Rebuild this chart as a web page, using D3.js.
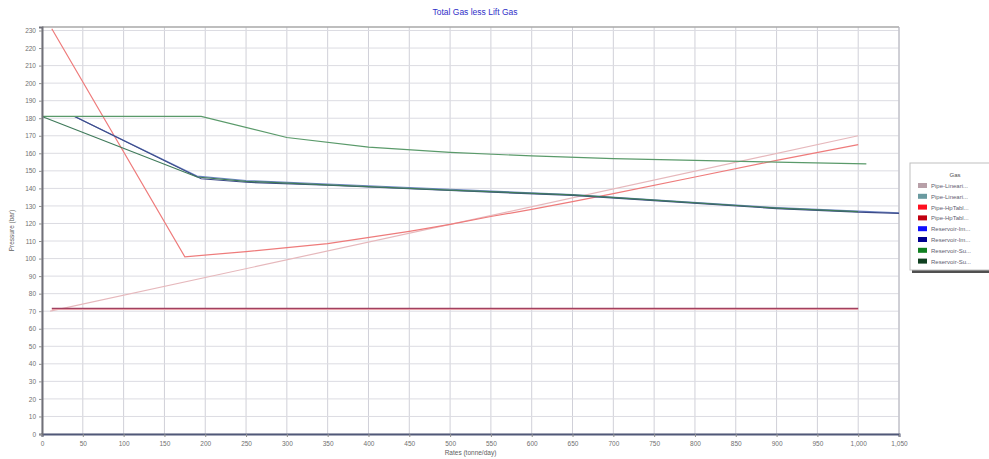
<!DOCTYPE html>
<html lang="en">
<head>
<meta charset="utf-8">
<title>Total Gas less Lift Gas</title>
<script src="https://cdn.jsdelivr.net/npm/d3@7"></script>
<style>
body { margin: 0; background: #fff; font-family: "Liberation Sans", Arial, sans-serif; }
</style>
</head>
<body>
<script>
var w = 989, h = 459;
var margin = {top: 27, right: 90, bottom: 25, left: 42};

// data (rate in tonne/day, pressure in bar)
var pipeLin1 = [[10, 70], [1000, 170]];
var pipeLin2 = [[12, 71], [1000, 71]];
var pipeHp1 = [[12, 231], [175, 101], [250, 104], [350, 108.5], [450, 115.5], [500, 119.5],
               [550, 124], [600, 128], [650, 132.5], [700, 137], [800, 146.5], [900, 156], [1000, 165]];
var pipeHp2 = [[12, 71.6], [1000, 71.6]];
var resIm1 = [[40, 181], [190, 147], [250, 144.5], [350, 142.5], [500, 139.5], [650, 136.5],
              [750, 133.5], [900, 129], [1000, 127], [1050, 126]];
var resIm2 = [[40, 181], [195, 145.5], [250, 143.5], [350, 141.8], [500, 138.8], [650, 136],
              [750, 133], [900, 128.5], [1000, 126.5], [1050, 125.8]];
var resSu1 = [[0, 181], [195, 181], [300, 169], [400, 163.5], [500, 160.5], [600, 158.5],
              [700, 157], [800, 156], [900, 155], [1010, 154]];
var resSu2 = [[0, 181], [190, 146.5], [250, 144], [350, 142], [500, 139], [650, 136.3],
              [750, 133.3], [900, 128.8], [1000, 126.8]];

var xTicks = d3.range(0, 1051, 50);
var yTicks = d3.range(0, 231, 10);

var series = [
  {name: "Pipe-Lineari...", data: pipeLin1, color: "#e6b8bc", swatch: "#b8a0a8"},
  {name: "Pipe-Lineari...", data: pipeLin2, color: "#e9a0a8", swatch: "#6a9aa0"},
  {name: "Pipe-HpTabl...", data: pipeHp1, color: "#ee7b7b", swatch: "#ff1020"},
  {name: "Pipe-HpTabl...", data: pipeHp2, color: "#a04060", swatch: "#c00010"},
  {name: "Reservoir-Im...", data: resIm1, color: "#6e86c4", swatch: "#1010ff"},
  {name: "Reservoir-Im...", data: resIm2, color: "#3c4a88", swatch: "#000090"},
  {name: "Reservoir-Su...", data: resSu1, color: "#5a9a6a", swatch: "#108020"},
  {name: "Reservoir-Su...", data: resSu2, color: "#3f7a5a", swatch: "#104020"}
];

var svg = d3.select("body").append("svg")
  .attr("width", w)
  .attr("height", h);

var x = d3.scaleLinear().domain([0, 1050]).range([margin.left, 899]);
var y = d3.scaleLinear().domain([0, 232]).range([h - margin.bottom, margin.top]);

// grid
svg.append("g").selectAll("line").data(xTicks).enter().append("line")
  .attr("x1", function(d) { return x(d); })
  .attr("x2", function(d) { return x(d); })
  .attr("y1", y(0)).attr("y2", y(232))
  .attr("stroke", "#d0d0d8").attr("stroke-width", 1);
svg.append("g").selectAll("line").data(yTicks).enter().append("line")
  .attr("x1", x(0)).attr("x2", x(1050))
  .attr("y1", function(d) { return y(d); })
  .attr("y2", function(d) { return y(d); })
  .attr("stroke", "#dcdce2").attr("stroke-width", 1);

// top and right border
svg.append("line").attr("x1", x(0)).attr("x2", x(1050)).attr("y1", y(232)).attr("y2", y(232))
  .attr("stroke", "#a8a8a8").attr("stroke-width", 1.5);
svg.append("line").attr("x1", x(1050)).attr("x2", x(1050)).attr("y1", y(232)).attr("y2", y(0))
  .attr("stroke", "#b8b8c0").attr("stroke-width", 1);

// series
var line = d3.line()
  .x(function(d) { return x(d[0]); })
  .y(function(d) { return y(d[1]); });

svg.append("g").selectAll("path").data(series).enter().append("path")
  .attr("d", function(d) { return line(d.data); })
  .attr("fill", "none")
  .attr("stroke", function(d) { return d.color; })
  .attr("stroke-width", 1.2);

// axes
var xAxis = d3.axisBottom(x).tickValues(xTicks).tickSize(3).tickFormat(d3.format(","));
var yAxis = d3.axisLeft(y).tickValues(yTicks).tickSize(3);

var gx = svg.append("g").attr("transform", "translate(0," + y(0) + ")").call(xAxis);
var gy = svg.append("g").attr("transform", "translate(" + x(0) + ",0)").call(yAxis);

gx.select(".domain").attr("stroke", "#505878").attr("stroke-width", 2);
gy.select(".domain").attr("stroke", "#707078").attr("stroke-width", 2);
svg.selectAll(".tick line").attr("stroke", "#909090");
svg.selectAll(".tick text").attr("fill", "#707070").attr("font-size", "6.5px")
  .attr("font-family", "Liberation Sans, Arial, sans-serif");
gx.selectAll(".tick text").attr("dy", "0.9em");

// titles
svg.append("text")
  .attr("x", 475).attr("y", 15)
  .attr("text-anchor", "middle")
  .attr("font-size", "8.5px")
  .attr("fill", "#3030c8")
  .text("Total Gas less Lift Gas");

svg.append("text")
  .attr("x", x(525)).attr("y", 455)
  .attr("text-anchor", "middle")
  .attr("font-size", "6.5px")
  .attr("fill", "#606060")
  .text("Rates (tonne/day)");

svg.append("text")
  .attr("transform", "translate(14," + y(116) + ") rotate(-90)")
  .attr("text-anchor", "middle")
  .attr("font-size", "6.5px")
  .attr("fill", "#606060")
  .text("Pressure (bar)");

// legend
var lg = svg.append("g").attr("transform", "translate(910,163)");
lg.append("rect").attr("x", 2).attr("y", 2).attr("width", 82).attr("height", 108)
  .attr("fill", "#505050");
lg.append("rect").attr("width", 82).attr("height", 107)
  .attr("fill", "#fff").attr("stroke", "#c0c0c0");
lg.append("text").attr("x", 45).attr("y", 14)
  .attr("text-anchor", "middle").attr("font-size", "6px").attr("fill", "#505050")
  .text("Gas");

var items = lg.selectAll("g.item").data(series).enter().append("g")
  .attr("class", "item")
  .attr("transform", function(d, i) { return "translate(8," + (23 + i * 10.8) + ")"; });
items.append("rect").attr("y", -3).attr("width", 9).attr("height", 5)
  .attr("fill", function(d) { return d.swatch; });
items.append("text").attr("x", 13).attr("y", 2)
  .attr("font-size", "6px").attr("fill", "#606070")
  .text(function(d) { return d.name; });
</script>
</body>
</html>
